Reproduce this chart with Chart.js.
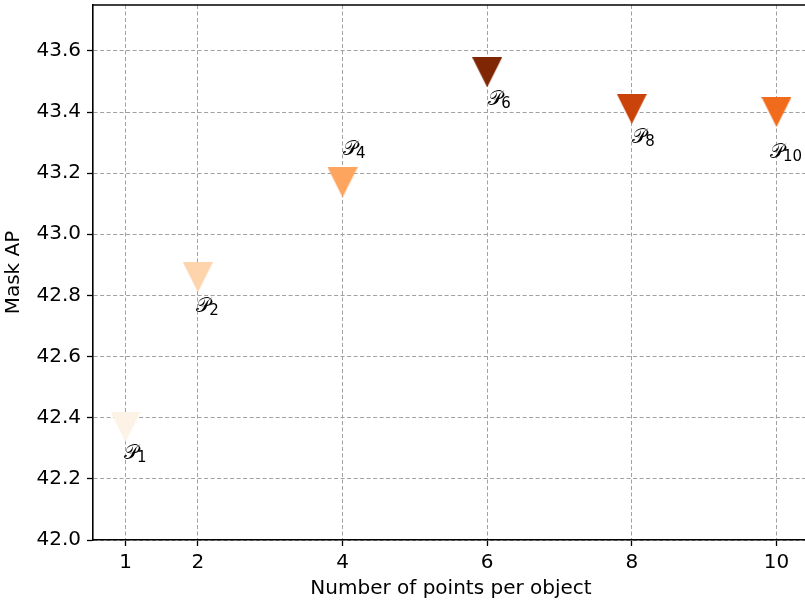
<!DOCTYPE html>
<html>
<head>
<meta charset="utf-8">
<script src="https://cdn.jsdelivr.net/npm/chart.js@4"></script>
<style>
html,body{margin:0;padding:0;background:#fff;overflow:hidden;width:805px;height:602px;}
#wrap{position:absolute;left:0;top:0;width:812px;height:602px;}
</style>
</head>
<body>
<div id="wrap"><canvas id="c" width="812" height="602"></canvas></div>
<script>
// ---- data ----
const pointsPerObject = [1, 2, 4, 6, 8, 10];
const maskAP = [42.37, 42.86, 43.17, 43.53, 43.41, 43.40];
const pointLabels = ['1', '2', '4', '6', '8', '10'];
const markerColors = ['#fdf2e6', '#fdd4ab', '#fda45f', '#7f2704', '#c9430a', '#f06c1c'];
const xTicks = [1, 2, 4, 6, 8, 10];
const yTicks = [42.0, 42.2, 42.4, 42.6, 42.8, 43.0, 43.2, 43.4, 43.6];
const xTitle = 'Number of points per object';
const yTitle = 'Mask AP';
// label placement relative to marker (pixels): [dx, dy to baseline]
const labelOffsets = [[-1.5, 32], [-1.5, 34.5], [0.5, -27.5], [1, 32.5], [0.5, 34], [-6.5, 45.5]];

const FONT = "'DejaVu Sans', sans-serif";

function makeTriangle(color, size) {
  const cv = document.createElement('canvas');
  cv.width = size; cv.height = size;
  const g = cv.getContext('2d');
  g.fillStyle = color;
  g.beginPath();
  g.moveTo(0, 0);
  g.lineTo(size, 0);
  g.lineTo(size / 2, size);
  g.closePath();
  g.fill();
  return cv;
}
const markerImages = markerColors.map(c => makeTriangle(c, 30));

function zeroPad(s) { s.paddingLeft = 0; s.paddingRight = 0; s.paddingTop = 0; s.paddingBottom = 0; }

const framePlugin = {
  id: 'frame',
  afterDraw(chart) {
    const {ctx, chartArea: a} = chart;
    ctx.save();
    ctx.strokeStyle = '#000';
    ctx.lineWidth = 1.6;
    ctx.beginPath();
    ctx.moveTo(a.left - 0.8, a.top);
    ctx.lineTo(a.right + 0.8, a.top);
    ctx.lineTo(a.right, a.bottom);
    ctx.stroke();
    // point labels
    const xs = chart.scales.x, ys = chart.scales.y;
    ctx.fillStyle = '#000';
    ctx.textBaseline = 'alphabetic';
    ctx.textAlign = 'left';
    pointsPerObject.forEach((xv, i) => {
      const px = xs.getPixelForValue(xv) + labelOffsets[i][0];
      const py = ys.getPixelForValue(maskAP[i]) + labelOffsets[i][1];
      ctx.font = "20px 'DejaVu Serif', 'DejaVu Sans', serif";
      const P = '\u{1D4AB}';
      ctx.fillText(P, px, py);
      const w = ctx.measureText(P).width;
      ctx.font = '15px ' + FONT;
      ctx.fillText(pointLabels[i], px + w - 1, py + 3.5);
    });
    // axis titles
    ctx.font = '20px ' + FONT;
    ctx.textAlign = 'center';
    ctx.textBaseline = 'middle';
    ctx.fillText(xTitle, (a.left + a.right) / 2, 589);
    ctx.save();
    ctx.translate(14, (a.top + a.bottom) / 2);
    ctx.rotate(-Math.PI / 2);
    ctx.fillText(yTitle, 0, 0);
    ctx.restore();
    ctx.restore();
  }
};

new Chart(document.getElementById('c'), {
  type: 'scatter',
  data: {
    datasets: [{
      data: pointsPerObject.map((x, i) => ({x, y: maskAP[i]})),
      pointStyle: markerImages,
      pointRadius: 15,
      pointHoverRadius: 15,
      backgroundColor: markerColors,
      borderColor: markerColors,
      clip: false
    }]
  },
  options: {
    responsive: false,
    animation: false,
    events: [],
    layout: {autoPadding: false, padding: {top: 5, right: 3, left: 0, bottom: 0}},
    plugins: {legend: {display: false}, tooltip: {enabled: false}},
    scales: {
      x: {
        type: 'linear',
        min: 0.55, max: 10.45,
        afterBuildTicks: s => { s.ticks = xTicks.map(v => ({value: v})); },
        afterFit: s => { s.height = 62; zeroPad(s); },
        ticks: {color: '#000', font: {family: FONT, size: 20}, padding: 5, callback: v => String(v), maxRotation: 0, autoSkip: false},
        grid: {color: '#a0a0a0', lineWidth: 1, drawTicks: true, tickLength: 6, tickColor: '#000', tickWidth: 1.3, tickBorderDash: []},
        border: {display: true, color: '#000', width: 1.6, dash: [4, 2.5]}
      },
      y: {
        type: 'linear',
        min: 42.0, max: 43.75,
        afterBuildTicks: s => { s.ticks = yTicks.map(v => ({value: v})); },
        afterFit: s => { s.width = 93; zeroPad(s); },
        ticks: {color: '#000', font: {family: FONT, size: 20}, padding: 6, callback: v => Number(v).toFixed(1), autoSkip: false},
        grid: {color: '#a0a0a0', lineWidth: 1, drawTicks: true, tickLength: 6, tickColor: '#000', tickWidth: 1.3, tickBorderDash: []},
        border: {display: true, color: '#000', width: 1.6, dash: [4, 2.5]}
      }
    }
  },
  plugins: [framePlugin]
});
</script>
</body>
</html>
